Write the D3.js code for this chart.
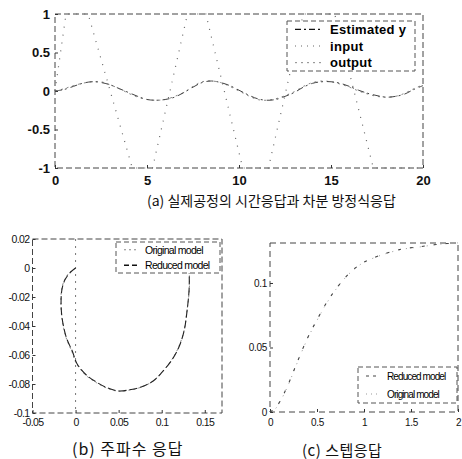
<!DOCTYPE html>
<html>
<head>
<meta charset="utf-8">
<script src="https://cdn.jsdelivr.net/npm/d3@7"></script>
<style>
  body { margin: 0; background: #fff; }
  svg { display: block; }
</style>
</head>
<body>
<script>
// --- (a) time response ---
const timeT = [0,0.5,1,1.5,2,2.5,3,3.5,4,4.5,5,5.5,6,6.5,7,7.5,8,8.5,9,9.5,10,
               10.5,11,11.5,12,12.5,13,13.5,14,14.5,15,15.5,16,16.5,17,17.5,18,18.5,19,19.5,20]
const outputY = [0,0.03,0.07,0.1,0.12,0.12,0.08,0.03,-0.03,-0.08,-0.11,-0.12,-0.11,-0.07,-0.02,0.06,
                 0.12,0.13,0.11,0.06,0.0,-0.06,-0.11,-0.12,-0.1,-0.06,-0.01,0.06,0.11,0.13,0.12,
                 0.09,0.05,0.0,-0.04,-0.07,-0.08,-0.07,-0.03,0.03,0.08]
const estimY = [0,0.02,0.06,0.1,0.12,0.11,0.08,0.03,-0.02,-0.07,-0.11,-0.12,-0.11,-0.08,-0.02,0.05,
                0.11,0.13,0.11,0.07,0.01,-0.05,-0.1,-0.12,-0.11,-0.07,-0.02,0.05,0.1,0.12,0.12,
                0.1,0.06,0.01,-0.03,-0.06,-0.08,-0.07,-0.04,0.02,0.07]
const inputT = [0,0.6,1.8,4.2,5.3,7.2,8.2,10.2,11.6,13.5,15.2,17.3,20]
const inputV = [0,1,1,-1,-1,1,1,-1,-1,1,1,-1,-1]
const aXTicks = [0,5,10,15,20]
const aYTicks = [1,0.5,0,-0.5,-1]
const aLegend = ["Estimated y","input","output"]

// --- (b) frequency response (Nyquist) ---
const origRe = [0,-0.007,-0.0126,-0.016,-0.017,-0.016,-0.011,-0.004,0.001,0.012,0.024,0.037,0.05,
                0.064,0.077,0.09,0.1,0.112,0.12,0.126,0.129,0.132,0.132,0.131]
const origIm = [0,-0.003,-0.008,-0.014,-0.022,-0.034,-0.048,-0.058,-0.066,-0.074,-0.079,-0.083,-0.085,
                -0.084,-0.082,-0.078,-0.072,-0.063,-0.054,-0.043,-0.031,-0.015,-0.003,0.003]
const redRe = [0,-0.006,-0.012,-0.0155,-0.0168,-0.0158,-0.0108,-0.0035,0.0015,0.0125,0.0245,0.0375,0.0505,
               0.0645,0.0775,0.0905,0.1005,0.1125,0.1205,0.1262,0.1292,0.1318,0.1318,0.1308]
const redIm = [0,-0.003,-0.0078,-0.0138,-0.0218,-0.0338,-0.0478,-0.0578,-0.0658,-0.0738,-0.0788,-0.0828,-0.0848,
               -0.0838,-0.0818,-0.0778,-0.0718,-0.0628,-0.0538,-0.0428,-0.0308,-0.0148,-0.0028,0.0032]
const bXTicks = [-0.05,0,0.05,0.1,0.15]
const bYTicks = [0.02,0,-0.02,-0.04,-0.06,-0.08,-0.1]
const bLegend = ["Original model","Reduced model"]

// --- (c) step response ---
const stepT = [0,0.05,0.1,0.15,0.2,0.25,0.3,0.4,0.5,0.6,0.7,0.8,0.9,1.0,1.2,1.4,1.6,1.8,2.0]
const origStep = [0,0.002,0.007,0.014,0.022,0.031,0.04,0.057,0.071,0.084,0.095,0.104,0.111,0.116,
                  0.122,0.126,0.128,0.13,0.131]
const redStep = [0,0.0025,0.0075,0.0145,0.0225,0.0315,0.0405,0.0575,0.0715,0.0845,0.0952,0.1042,0.1112,
                 0.1162,0.1222,0.1262,0.1282,0.1301,0.1311]
const cXTicks = [0,0.5,1,1.5,2]
const cYTicks = [0,0.05,0.1]
const cLegend = ["Reduced model","Original model"]

const captions = ["(a) 실제공정의 시간응답과 차분 방정식응답", "(b) 주파수 응답", "(c) 스텝응답"]

function setattrs(shape, dict) {
    for (let [prop, val] of Object.entries(dict)) {
        shape.attr(prop, val)
    }
}

const svg = d3.select("body").append("svg")
setattrs(svg, {"width": 462, "height": 459})
svg.append("rect").attr("width", 462).attr("height", 459).attr("fill", "#fff")

const fontLat = "'Liberation Sans', Arial, sans-serif"
const fontKr = "'Noto Sans CJK KR', sans-serif"

// frame + inward ticks, matlab style
function drawFrame(x, y, xt, yt, opt) {
    const g = svg.append("g")
    const [x0, x1] = x.range(), [y0, y1] = y.range()
    g.append("rect")
        .attr("x", x0).attr("y", y1).attr("width", x1 - x0).attr("height", y0 - y1)
        .attr("fill", "none").attr("stroke", "#444").attr("stroke-width", 1)
        .attr("stroke-dasharray", opt.dash)
    const ax = g.append("g").attr("transform", `translate(0,${y0})`)
        .call(d3.axisBottom(x).tickValues(xt).tickSize(-opt.tick).tickPadding(opt.padX).tickFormat(opt.fmtX))
    const ay = g.append("g").attr("transform", `translate(${x0},0)`)
        .call(d3.axisLeft(y).tickValues(yt).tickSize(-opt.tick).tickPadding(opt.padY).tickFormat(opt.fmtY))
    for (let a of [ax, ay]) {
        a.select(".domain").remove()
        a.selectAll("line").attr("stroke", "#333")
        setattrs(a.selectAll("text"), {
            "font-family": fontLat, "font-size": opt.fs, "font-weight": opt.fw,
            "fill": "#111", "letter-spacing": opt.ls
        })
    }
    return g
}

function legendBox(x, y, w, h, labels, styles, tx, fs, fw, ls) {
    const g = svg.append("g")
    setattrs(g.append("rect"), {
        "x": x, "y": y, "width": w, "height": h, "fill": "#fff",
        "stroke": "#555", "stroke-width": 1, "stroke-dasharray": "5,3"
    })
    const step = h / labels.length
    labels.forEach((lab, i) => {
        const cy = y + step * (i + 0.5)
        setattrs(g.append("line"), Object.assign({
            "x1": x + 8, "x2": tx - 8, "y1": cy, "y2": cy, "fill": "none"
        }, styles[i]))
        setattrs(g.append("text").text(lab), {
            "x": tx, "y": cy, "dominant-baseline": "central",
            "font-family": fontLat, "font-size": fs, "font-weight": fw,
            "letter-spacing": ls, "fill": "#000"
        })
    })
}

// ---------- panel (a) ----------
const xa = d3.scaleLinear().domain([0, 20]).range([55, 423])
const ya = d3.scaleLinear().domain([-1, 1]).range([168, 14])
drawFrame(xa, ya, aXTicks, aYTicks, {
    dash: "6,3", tick: 3, padX: 8, padY: 5, fs: 13, fw: "bold", ls: 0,
    fmtX: d3.format("d"), fmtY: d => d === 0 ? "0" : String(d)
})
const lineA = (xs, ys) => d3.line().x((d, i) => xa(xs[i])).y(d => ya(d))(ys)
svg.append("path").attr("d", lineA(inputT, inputV))
    .attr("fill", "none").attr("stroke", "#666").attr("stroke-width", 1.2)
    .attr("stroke-dasharray", "1,7")
svg.append("path").attr("d", d3.line().curve(d3.curveCatmullRom).x((d, i) => xa(timeT[i])).y(d => ya(d))(outputY))
    .attr("fill", "none").attr("stroke", "#888").attr("stroke-width", 1)
    .attr("stroke-dasharray", "2,4")
svg.append("path").attr("d", d3.line().curve(d3.curveCatmullRom).x((d, i) => xa(timeT[i])).y(d => ya(d))(estimY))
    .attr("fill", "none").attr("stroke", "#444").attr("stroke-width", 1)
    .attr("stroke-dasharray", "7,3,2,4")
legendBox(287, 21, 128, 50, aLegend, [
    {"stroke": "#111", "stroke-width": 1.3, "stroke-dasharray": "6,3,2,3"},
    {"stroke": "#666", "stroke-width": 1.2, "stroke-dasharray": "1,5"},
    {"stroke": "#888", "stroke-width": 1, "stroke-dasharray": "2,4"}
], 330, 13, "bold", 0.3)

// ---------- panel (b) ----------
const xb = d3.scaleLinear().domain([-0.05, 0.17]).range([32.5, 222])
const yb = d3.scaleLinear().domain([-0.1, 0.02]).range([413, 239])
drawFrame(xb, yb, bXTicks, bYTicks, {
    dash: "6,3", tick: 3, padX: 6, padY: 3, fs: 10.5, fw: "normal", ls: -0.6,
    fmtX: d => d === 0 ? "0" : String(d), fmtY: d => d === 0 ? "0" : String(d)
})
svg.append("line").attr("x1", xb(0)).attr("x2", xb(0)).attr("y1", yb(0.02)).attr("y2", yb(-0.1))
    .attr("stroke", "#777").attr("stroke-dasharray", "2,5")
const lineB = (re, im) => d3.line().curve(d3.curveCatmullRom).x((d, i) => xb(re[i])).y(d => yb(d))(im)
svg.append("path").attr("d", lineB(origRe, origIm))
    .attr("fill", "none").attr("stroke", "#888").attr("stroke-width", 1).attr("stroke-dasharray", "2,3")
svg.append("path").attr("d", lineB(redRe, redIm))
    .attr("fill", "none").attr("stroke", "#222").attr("stroke-width", 1.1).attr("stroke-dasharray", "8,3")
legendBox(116, 242, 104, 31, bLegend, [
    {"stroke": "#888", "stroke-width": 1, "stroke-dasharray": "2,3"},
    {"stroke": "#111", "stroke-width": 1.3, "stroke-dasharray": "5,3"}
], 145, 10.5, "normal", -0.7)

// ---------- panel (c) ----------
const xc = d3.scaleLinear().domain([0, 2]).range([270, 458])
const yc = d3.scaleLinear().domain([0, 0.131]).range([412, 243])
drawFrame(xc, yc, cXTicks, cYTicks, {
    dash: "6,4", tick: 3, padX: 7, padY: 3, fs: 10, fw: "normal", ls: -0.3,
    fmtX: d => String(d), fmtY: d => String(d)
})
const lineC = ys => d3.line().curve(d3.curveCatmullRom).x((d, i) => xc(stepT[i])).y(d => yc(d))(ys)
svg.append("path").attr("d", lineC(origStep))
    .attr("fill", "none").attr("stroke", "#999").attr("stroke-width", 1).attr("stroke-dasharray", "1,6")
svg.append("path").attr("d", lineC(redStep))
    .attr("fill", "none").attr("stroke", "#444").attr("stroke-width", 1.1).attr("stroke-dasharray", "3,9")
legendBox(358, 367, 99, 36, cLegend, [
    {"stroke": "#444", "stroke-width": 1.1, "stroke-dasharray": "3,4"},
    {"stroke": "#999", "stroke-width": 1, "stroke-dasharray": "1,4"}
], 387, 10, "normal", -0.9)

// ---------- captions ----------
const capPos = [[147, 206, 14, 0], [72, 455, 16, 1], [302, 456, 15, 0.5]]
captions.forEach((c, i) => {
    const [x, y, fs, ls] = capPos[i]
    setattrs(svg.append("text").text(c), {
        "x": x, "y": y, "font-family": fontKr, "font-size": fs,
        "letter-spacing": ls, "fill": "#111"
    })
})
</script>
</body>
</html>
